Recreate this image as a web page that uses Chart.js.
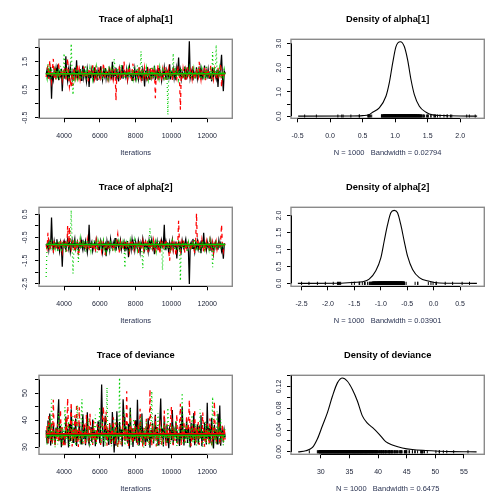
<!DOCTYPE html>
<html>
<head>
<meta charset="utf-8">
<script src="https://cdn.jsdelivr.net/npm/chart.js@4"></script>
<style>
  html, body { margin: 0; padding: 0; background: #fff; }
  #wrap { position: relative; width: 504px; height: 504px; }
  #wrap canvas { position: absolute; }
</style>
</head>
<body>
<div id="wrap">
  <canvas id="traceA1" width="252" height="168" style="left:0;top:0"></canvas>
  <canvas id="densA1" width="252" height="168" style="left:252px;top:0"></canvas>
  <canvas id="traceA2" width="252" height="168" style="left:0;top:168px"></canvas>
  <canvas id="densA2" width="252" height="168" style="left:252px;top:168px"></canvas>
  <canvas id="traceDev" width="252" height="168" style="left:0;top:336px"></canvas>
  <canvas id="densDev" width="252" height="168" style="left:252px;top:336px"></canvas>
</div>
<script>
// iterations kept for plotting (one value per 50 iterations)
var iterations = Array.from({ length: 201 }, (_, i) => 3000 + 50 * i);

// alpha[1], chains 1-3
var alpha1Chain1 = [1.05,1.22,0.90,1.14,0.97,1.31,0.18,1.08,0.86,1.19, 1.02,1.27,0.93,1.40,0.84,1.11,0.99,1.25,0.45,1.06,
  1.17,0.89,1.69,1.03,0.81,1.21,0.95,1.33,1.07,0.88, 1.15,1.00,1.29,0.92,1.55,0.86,1.12,0.98,1.24,0.83,
  1.09,1.36,0.94,1.18,1.01,0.79,1.26,1.05,0.60,1.14, 0.91,1.23,1.03,0.87,1.30,0.97,1.12,0.82,1.20,1.04,
  0.93,1.34,1.08,0.85,1.17,0.99,1.27,0.90,1.13,1.02, 0.88,1.22,1.06,0.95,1.50,0.84,1.15,1.00,1.28,0.92,
  1.10,0.80,1.24,1.03,0.96,1.37,0.89,1.16,1.07,0.94, 1.21,0.86,1.11,1.32,0.98,1.05,0.83,1.19,1.01,1.26,
  0.92,1.14,1.04,0.87,1.29,0.97,1.10,0.81,1.23,1.06, 0.62,1.18,0.95,1.31,1.02,0.88,1.25,1.09,0.93,1.16,
  1.00,1.35,0.85,1.12,0.99,1.27,0.90,1.21,1.05,0.82, 1.14,0.96,1.30,1.03,0.89,1.19,1.08,0.94,1.41,0.87,
  1.11,1.01,1.24,0.91,1.16,0.84,1.28,1.06,1.65,0.97, 1.20,0.88,1.13,1.03,0.95,1.33,0.86,1.17,1.00,1.25,
  2.23,0.92,1.09,1.22,0.83,1.15,1.04,0.97,1.30,0.90, 1.12,1.01,1.26,0.87,1.18,0.94,1.07,1.36,0.85,1.14,
  0.99,1.23,0.91,1.10,1.04,0.80,1.29,0.96,1.19,1.02, 0.88,1.21,0.60,1.13,1.05,1.32,1.75,0.93,0.45,1.16, 1.09];
var alpha1Chain2 = [0.95,1.18,1.38,0.88,1.55,1.02,0.79,1.25,1.60,0.92, 1.31,0.84,1.12,1.00,1.48,0.90,1.06,1.22,0.86,1.14,
  1.00,1.27,0.86,1.19,1.62,0.97,0.60,0.82,0.58,1.11, 0.64,1.29,1.04,0.89,1.16,1.40,0.98,1.21,0.87,1.08,
  1.13,0.95,1.33,1.03,0.91,1.18,1.07,0.80,1.26,1.00, 1.15,0.94,1.37,1.05,0.88,1.22,0.99,1.10,0.85,1.30,
  1.04,0.92,1.17,0.96,1.45,1.08,0.90,1.23,1.01,0.86, 1.19,1.06,0.93,1.34,1.12,0.84,1.02,1.27,0.12,1.15,
  0.97,1.09,1.38,0.84,1.21,1.03,0.92,1.51,1.07,0.95, 1.25,0.88,1.14,1.32,1.00,0.91,1.18,1.43,0.83,1.06,
  1.11,0.96,1.24,0.89,1.35,1.02,0.87,1.16,1.05,0.93, 1.28,0.99,1.13,0.82,1.20,1.04,0.94,1.31,0.88,1.17,
  1.01,1.26,0.20,1.10,0.95,1.39,0.86,1.15,1.03,0.91, 1.22,0.97,1.08,1.33,0.85,1.12,1.00,1.24,0.90,1.18,
  1.05,0.83,1.29,0.96,1.14,1.02,0.89,1.36,1.07,0.94, -0.21,1.11,0.87,1.25,1.01,0.92,1.19,0.85,1.30,1.04,
  0.96,1.21,1.08,0.88,1.34,0.99,1.13,0.90,1.27,1.03, 0.93,1.50,1.10,0.86,1.20,1.05,0.97,1.31,0.84,1.16,
  1.00,1.24,0.91,1.12,1.38,0.95,1.07,0.87,1.22,1.02, 1.15,0.89,1.29,0.98,1.10,1.43,0.59,1.21,0.92,1.06, 1.11];
var alpha1Chain3 = [1.08,0.91,1.43,1.00,1.19,0.85,1.27,0.96,1.12,1.04, 1.30,0.88,1.21,0.99,1.14,0.83,1.35,1.03,1.17,0.90,
  1.80,1.06,0.94,1.25,1.01,0.86,1.20,0.97,2.14,1.09, 0.32,1.16,0.92,1.33,1.03,0.89,1.22,0.98,1.11,0.87,
  1.10,1.24,0.94,1.07,1.38,0.87,1.16,1.01,0.93,1.26, 1.05,1.13,0.89,1.20,0.98,1.09,1.31,0.92,1.14,1.02,
  0.95,1.23,1.06,0.86,1.29,1.11,0.97,1.18,1.04,0.90, 1.35,1.07,0.94,1.21,1.00,1.16,1.60,1.22,1.09,0.96,
  1.28,1.03,0.91,1.14,1.40,0.99,1.06,0.88,1.17,1.01, 1.12,0.93,1.25,1.08,0.95,1.19,1.02,0.87,1.30,1.05,
  1.13,0.92,1.36,0.98,1.15,1.07,1.87,0.89,1.21,1.00, 1.11,0.94,1.27,1.04,0.86,1.18,1.09,0.96,1.33,1.02,
  0.90,1.24,1.06,0.97,1.15,1.01,0.88,1.29,1.08,0.95, 1.19,1.03,0.92,1.26,0.85,1.12,-0.39,1.17,1.00,1.23,
  0.94,1.10,1.80,0.99,1.31,0.91,1.14,1.05,0.87,1.20, 1.02,1.28,0.96,1.11,0.89,1.34,1.06,0.93,1.18,1.01,
  1.25,0.90,1.13,1.04,0.97,1.22,0.86,1.16,1.07,0.95, 1.30,1.00,1.12,0.88,1.24,1.05,0.94,1.19,1.02,1.37,
  0.91,1.15,1.06,0.98,1.27,0.84,1.85,1.09,1.20,0.96, 2.10,1.03,1.14,0.92,1.26,1.01,0.89,1.18,0.97,1.23, 1.06];

// alpha[2], chains 1-3
var alpha2Chain1 = [-0.78,-0.95,-0.62,-1.03,-0.71,-0.88,0.36,-0.80,-1.05,-0.66, -0.91,-0.74,-0.58,-0.97,-0.83,-1.10,-0.69,-0.87,-1.76,-0.75,
  -0.64,-0.92,-1.02,-0.79,-0.56,-0.96,-0.71,-1.12,-0.85,-0.63, -0.93,-0.76,-0.55,-1.00,-0.82,-0.68,-1.07,-0.79,-0.90,-0.60,
  -0.86,-1.04,-0.73,-0.95,-0.65,-0.88,-1.15,-0.77,0.05,-0.92, -0.81,-0.69,-1.08,-0.87,-0.73,-0.98,-0.60,-0.84,-1.01,-0.75,
  -0.94,-0.63,-0.82,-1.13,-0.70,-0.89,-0.77,-1.31,-0.67,-0.92, -0.75,-1.04,-0.57,-0.86,-0.98,-0.72,-0.90,-0.52,-1.07,-0.80,
  -0.67,-0.94,-0.84,-0.61,-1.01,-0.76,-0.88,-0.70,-1.10,-0.79, -0.96,-0.65,-1.35,-0.85,-0.74,-1.02,-0.59,-0.91,-0.78,-1.06,
  -0.68,-0.87,-0.99,-0.62,-0.83,-1.14,-0.73,-0.93,-0.55,-0.81, -1.03,-0.70,-0.89,-0.76,-1.09,-0.64,-0.95,-0.80,-0.58,-0.97,
  -0.84,-1.22,-0.74,-0.91,-0.66,-1.00,-0.82,-0.71,-0.94,-0.63, -0.88,-0.77,0.05,-1.05,-0.69,-0.92,-0.81,-1.17,-0.73,-0.99,
  -0.86,-0.60,-1.03,-0.76,-0.90,-0.67,-1.40,-0.83,-0.72,-0.96, -0.79,-1.06,-0.64,-0.88,-0.99,-0.74,-0.57,-0.93,-0.85,-1.11,
  -2.50,-0.80,-0.71,-0.97,-0.56,-0.89,-1.13,-0.75,-0.92,-0.66, -1.01,-0.84,-0.73,-1.18,-0.62,-0.95,-0.30,-0.87,-0.78,-1.04,
  -0.69,-0.91,-0.82,-1.08,-0.65,-0.98,-0.76,-1.20,-0.88,-0.71, -0.95,-0.81,-1.02,-0.62,-0.86,-0.74,-1.09,-0.93,-1.41,-0.79, -0.78];
var alpha2Chain2 = [-0.85,-0.99,-0.30,-0.72,-1.08,-0.66,-0.90,-0.79,-1.15,-0.61, -0.88,-0.74,-1.01,-0.93,-0.69,-1.02,-0.58,-0.84,-1.12,-0.77,
  -0.95,-0.63,-0.86,-1.10,-0.01,-0.92,-0.05,-0.81,-1.00,-0.75, -0.67,-0.89,-1.12,-0.73,-0.96,-0.60,-1.30,-1.05,-0.70,-0.91,
  -0.78,-0.64,-0.99,-0.85,-0.71,-1.06,-0.59,-0.88,-0.97,-0.74, -0.83,-1.03,-0.69,-0.90,-0.76,-1.14,-0.62,-0.85,-0.98,-0.71,
  -0.88,-0.55,-1.07,-0.80,-0.67,-0.93,-1.25,-0.74,-0.89,-0.63, -1.01,-0.79,-0.70,-0.95,-0.86,-1.09,-0.77,-0.68,-0.92,-0.59,
  -0.35,-0.84,-1.20,-0.73,-0.96,-0.81,-1.04,-0.66,-0.90,-0.78, -0.99,-0.64,-0.87,-1.11,-0.72,-0.93,-0.60,-0.85,-1.02,-0.76,
  -0.70,-0.95,-0.83,-1.16,-0.62,-0.89,-0.75,-0.98,-0.68,-1.04, -0.81,-0.57,-0.92,-0.77,-1.13,-0.66,-0.86,-1.00,-0.73,-0.94,
  -0.61,-0.88,-1.06,-0.79,-0.69,-0.97,-0.84,-1.21,-0.72,-0.90, -0.65,-1.03,-0.80,-0.93,-0.58,-0.87,-0.76,-1.10,-1.50,-0.83,
  -0.96,-0.68,-1.02,-0.74,-0.89,-1.30,-0.63,-0.85,0.22,-0.78, -1.09,-0.71,-0.92,-0.60,-0.84,-1.15,-0.77,-0.95,-0.67,-0.88,
  -0.99,-0.73,-1.07,-0.82,-0.64,-0.91,-1.18,-0.75,0.54,-0.86, -0.70,-1.01,-0.81,-0.94,-0.59,-0.87,-1.12,-0.76,-0.97,-0.66,
  -0.90,-0.78,-1.05,-0.62,-0.85,-0.99,-0.72,-1.14,-0.80,-0.93, -0.68,-1.02,-0.84,-0.75,-0.96,-0.61,0.05,-0.89,-1.10,-0.79, -0.76];
var alpha2Chain3 = [-2.20,-0.82,-0.69,-1.00,-0.76,-0.91,-0.58,-1.07,-0.84,-0.72, -0.95,-0.66,-0.88,-1.13,-0.79,-0.61,-0.93,-1.02,-0.70,-0.86,
  -0.97,-0.74,-1.16,-0.83,-0.68,-0.90,-1.04,-0.77,0.68,-0.81, -2.05,-0.94,-0.71,-1.09,-0.80,-0.64,-1.55,-0.89,-0.56,-1.00,
  -0.85,-0.73,-0.96,-0.67,-1.12,-0.80,-0.62,-0.99,-0.87,-0.75, -1.05,-0.70,-0.92,-0.81,-0.58,-0.98,-0.78,-1.14,-0.66,-0.88,
  -0.94,-0.72,-1.03,-0.84,-0.63,-0.96,-0.77,-1.08,-0.69,-0.91, -0.82,-1.10,-0.60,-0.87,-0.99,-0.74,-0.85,-1.02,-0.71,-0.93,
  -0.79,-0.65,-1.06,-0.90,-0.76,-0.97,-0.68,-0.86,-1.80,-0.83, -0.70,-0.95,-0.80,-1.11,-0.64,-0.89,-0.75,-1.01,-0.87,-0.62,
  -0.98,-0.78,-1.04,-0.73,-0.92,-0.66,-0.85,-1.15,-1.82,-0.79, -0.94,-0.69,-1.07,-0.81,-0.58,-0.96,-0.10,-0.88,-1.03,-0.74,
  -0.86,-0.97,-0.71,-1.09,-0.83,-0.63,-0.92,-0.77,-1.00,-0.68, -1.90,-0.89,-0.75,-1.05,-0.82,-0.67,-0.99,-0.73,-0.91,-1.12,
  -0.80,-0.64,-0.94,-0.85,-1.06,-0.72,-0.88,-0.97,-0.61,-0.84, -2.36,-0.79,-0.91,-0.68,-1.01,-0.86,-0.74,-0.95,-1.13,-0.70,
  -0.87,-0.76,-1.04,-0.82,-0.65,-0.93,-0.57,-1.08,-0.80,-0.96, -0.72,-0.89,-1.15,-0.75,-0.98,-0.63,-0.85,-1.02,-0.70,-0.92,
  -0.88,-0.73,-1.00,-0.65,-0.94,-0.81,-1.78,-0.77,-1.06,-0.84, -0.61,-0.99,-0.80,-0.90,-0.69,-1.03,-0.86,-0.74,-0.95,-0.82, -0.84];

// deviance, chains 1-3
var devChain1 = [36.2,31.5,39.8,33.1,42.4,30.6,35.7,32.0,38.3,34.4, 30.9,37.1,33.6,41.0,47.7,32.4,37.9,29.9,35.2,33.0,
  34.1,30.9,41.3,33.6,36.8,29.8,38.5,32.2,44.0,34.9, 31.7,37.2,33.4,40.6,30.4,35.9,32.8,39.1,34.3,31.2,
  36.6,42.1,33.0,38.2,30.7,35.1,42.9,32.5,31.0,34.6, 37.4,31.8,40.2,33.2,36.0,30.3,36.0,32.9,39.5,34.8,
  31.4,38.0,53.2,37.7,30.1,35.4,41.6,32.6,36.3,34.0, 30.8,38.9,33.5,31.1,43.0,35.6,28.0,37.1,30.5,43.3,
  34.4,31.9,39.3,33.9,36.5,30.2,47.7,41.0,32.3,37.6, 34.7,31.3,38.6,29.4,44.6,33.2,36.9,30.0,35.3,32.7,
  39.9,31.6,47.5,34.2,30.6,39.9,33.8,42.4,31.0,36.1, 33.6,30.4,37.8,32.1,40.7,34.9,29.7,36.4,33.0,38.8,
  31.3,35.5,42.0,32.8,37.4,30.8,34.1,39.6,48.0,33.4, 36.9,30.2,41.2,34.6,31.8,38.1,33.3,29.6,37.0,35.8,
  32.5,43.7,30.9,36.2,34.0,39.4,31.6,35.1,33.7,30.4, 38.6,32.2,44.9,34.8,30.6,36.7,33.1,40.3,31.5,37.3,
  34.3,29.8,39.0,32.9,36.1,42.6,30.7,35.4,33.8,38.4, 31.0,37.9,33.5,41.8,30.3,35.9,32.4,39.1,34.6,30.9,
  46.4,33.0,37.0,31.4,35.6,40.8,32.7,29.5,38.2,34.2, 36.6,31.2,42.3,33.9,45.4,30.5,35.0,37.4,31.7,36.1, 33.6];
var devChain2 = [33.4,37.8,30.9,41.5,35.6,32.1,39.0,31.0,47.5,34.7, 30.4,36.9,33.0,38.6,31.6,35.2,43.8,32.5,37.3,30.0,
  34.0,30.7,40.9,33.7,48.1,35.8,32.8,38.0,46.5,30.2, 36.4,33.1,41.8,31.4,46.0,34.5,30.0,44.7,32.3,36.1,
  33.8,31.2,39.0,35.5,30.6,42.0,34.2,37.9,31.8,42.3, 33.5,36.7,30.8,39.7,32.0,35.0,31.5,38.4,33.3,37.2,
  37.0,30.3,34.8,40.3,45.0,36.3,32.9,43.1,30.5,35.9, 33.9,38.8,31.3,36.6,32.4,41.0,34.3,30.9,39.2,33.6,
  29.8,31.1,35.4,37.6,30.1,34.6,41.2,32.7,36.0,31.9, 50.7,33.3,30.4,35.7,42.9,32.2,37.4,31.5,34.1,39.6,
  32.8,36.5,30.6,38.9,33.2,44.2,31.7,35.3,29.9,37.1, 34.4,30.8,40.5,33.0,36.8,31.3,51.4,34.9,30.5,38.2,
  32.6,35.7,41.4,30.2,37.9,33.6,31.1,39.8,34.7,30.9, 36.2,32.0,43.5,34.1,30.4,38.6,33.4,36.9,31.6,40.1,
  45.0,33.8,30.7,37.3,32.3,35.5,42.2,31.2,34.6,38.0, 46.0,30.6,36.4,33.1,39.5,31.8,35.2,41.7,32.9,37.6,
  47.5,34.0,30.3,38.1,32.5,36.0,43.9,31.4,35.8,33.2, 39.3,30.8,37.0,34.4,31.5,42.8,33.7,30.1,36.6,32.1,
  38.7,35.1,31.0,40.6,33.9,30.5,37.7,32.4,46.9,34.8, 31.3,36.8,33.5,39.4,30.7,35.9,32.6,38.5,31.8,37.2, 32.8];
var devChain3 = [35.1,30.8,38.3,33.5,41.0,32.6,47.7,31.3,36.4,33.8, 29.9,37.2,34.4,31.0,42.6,35.3,32.1,38.9,30.6,36.8,
  33.5,44.8,31.7,35.9,32.9,39.6,30.2,34.6,37.8,31.4, 41.4,33.0,36.2,30.5,38.7,45.5,32.4,35.5,31.1,39.3,
  47.7,30.9,36.1,33.6,37.0,31.8,35.8,40.7,32.3,30.1, 36.5,34.2,31.5,38.1,33.1,42.0,30.7,35.2,32.8,37.7,
  44.9,31.2,34.9,39.8,32.0,36.0,30.4,33.9,52.0,31.6, 35.6,32.5,38.5,30.3,34.3,37.3,31.9,40.2,33.4,36.7,
  30.0,35.0,55.7,32.2,31.0,36.9,33.7,43.4,30.6,34.7, 38.0,31.4,35.7,32.6,44.1,30.8,36.3,33.2,40.5,31.8,
  34.5,37.5,32.9,30.5,38.4,33.6,41.3,31.2,35.9,29.8, 37.1,33.3,39.7,31.9,34.8,30.6,36.4,32.7,50.7,34.0,
  31.5,38.9,33.2,36.6,30.2,42.5,32.4,35.3,31.0,37.8, 34.1,30.7,39.2,33.5,36.0,31.3,44.6,32.1,35.4,30.9,
  38.3,34.6,31.6,37.4,33.0,40.0,30.4,35.8,32.6,36.9, 31.7,34.2,50.1,30.8,37.6,33.9,31.1,39.0,32.5,35.6,
  30.3,36.2,33.4,41.9,31.4,35.1,32.0,38.6,30.6,34.4, 37.7,31.9,44.0,33.1,36.5,30.1,35.7,32.8,39.5,31.3,
  34.9,38.1,30.5,36.7,33.6,31.8,48.6,35.2,32.3,37.0, 30.9,43.2,33.7,36.1,31.5,40.4,32.2,35.5,30.7,34.5, 37.5];

// smoothed level of each chain (black, red, green)
var alpha1Smooth = [1.07, 1.06, 1.07];
var alpha2Smooth = [-0.80, -0.81, -0.80];
var devSmooth = [34.6, 34.9, 34.3];

// kernel density curves
var alpha1DensX = [-0.49, 0.30, 0.50, 0.60, 0.654, 0.756, 0.859, 0.910, 0.962, 1.013, 1.08, 1.141, 1.192, 1.244, 1.295, 1.372, 1.474, 1.577, 1.782, 2.0, 2.26];
var alpha1DensY = [0, 0.003, 0.02, 0.06, 0.16, 0.34, 0.82, 1.37, 2.19, 2.87, 3.07, 2.87, 2.32, 1.50, 0.89, 0.41, 0.16, 0.05, 0.02, 0.005, 0];
var alpha2DensX = [-2.57, -1.8, -1.5, -1.347, -1.22, -1.094, -0.999, -0.936, -0.873, -0.81, -0.746, -0.683, -0.62, -0.556, -0.493, -0.398, -0.271, -0.082, 0.108, 0.4, 0.82];
var alpha2DensY = [0, 0.005, 0.03, 0.05, 0.125, 0.37, 0.75, 1.24, 1.72, 2.08, 2.15, 2.08, 1.72, 1.24, 0.80, 0.41, 0.17, 0.06, 0.01, 0.003, 0];
var devDensX = [26.06, 27.38, 28.55, 29.42, 30.29, 31.16, 32.03, 32.9, 33.77, 34.65, 35.52, 36.39, 37.26, 38.14, 39.01, 40.17, 41.33, 42.49, 44.24, 45.98, 48.31, 50.63, 52.96, 57.2];
var devDensY = [0, 0.002, 0.008, 0.024, 0.048, 0.072, 0.102, 0.1266, 0.1356, 0.1296, 0.1145, 0.0933, 0.066, 0.0527, 0.0448, 0.0327, 0.0187, 0.0127, 0.0072, 0.0042, 0.0024, 0.0012, 0.0004, 0];

// tick values and labels
var iterTicks = [4000, 6000, 8000, 10000, 12000];
var iterLabels = ["4000", "6000", "8000", "10000", "12000"];
var alpha1Ticks = [-0.5, 0, 0.5, 1, 1.5, 2];
var alpha1Labels = ["-0.5", "", "0.5", "", "1.5", ""];
var alpha1DensXTicks = [-0.5, 0, 0.5, 1, 1.5, 2];
var alpha1DensXLabels = ["-0.5", "0.0", "0.5", "1.0", "1.5", "2.0"];
var alpha1DensYTicks = [0, 0.5, 1, 1.5, 2, 2.5, 3];
var alpha1DensYLabels = ["0.0", "", "1.0", "", "2.0", "", "3.0"];
var alpha2Ticks = [-2.5, -2, -1.5, -1, -0.5, 0, 0.5];
var alpha2Labels = ["-2.5", "", "-1.5", "", "-0.5", "", "0.5"];
var alpha2DensXTicks = [-2.5, -2, -1.5, -1, -0.5, 0, 0.5];
var alpha2DensXLabels = ["-2.5", "-2.0", "-1.5", "-1.0", "-0.5", "0.0", "0.5"];
var alpha2DensYTicks = [0, 0.5, 1, 1.5, 2];
var alpha2DensYLabels = ["0.0", "0.5", "1.0", "1.5", "2.0"];
var devTicks = [30, 35, 40, 45, 50, 55];
var devLabels = ["30", "", "40", "", "50", ""];
var devDensXTicks = [30, 35, 40, 45, 50, 55];
var devDensXLabels = ["30", "35", "40", "45", "50", "55"];
var devDensYTicks = [0, 0.02, 0.04, 0.06, 0.08, 0.10, 0.12, 0.14];
var devDensYLabels = ["0.00", "", "0.04", "", "0.08", "", "0.12", ""];

// ---- drawing ----
var FONT = "'Liberation Sans', Arial, Helvetica, sans-serif";
var BOX = { left: 39, top: 39.3, right: 232.3, bottom: 118.3 };
var CW = 252, CH = 168, TICK = 4;
var chainCols = ["#000000", "#ff0000", "#00cd00"];
var chainDash = [[], [4, 4], [1, 3]];
var labelCol = "#1a2035";

Chart.defaults.font.family = FONT;

// gray frame plus R style axis lines running from first to last tick
var rFrame = {
  id: "rFrame",
  afterDatasetsDraw(chart) {
    var ctx = chart.ctx, a = chart.chartArea, x = chart.scales.x, y = chart.scales.y;
    ctx.save();
    ctx.strokeStyle = "#8a8a8a";
    ctx.lineWidth = 1.4;
    ctx.strokeRect(a.left, a.top, a.right - a.left, a.bottom - a.top);
    var x0 = x.getPixelForValue(x.ticks[0].value), x1 = x.getPixelForValue(x.ticks[x.ticks.length - 1].value);
    var y0 = y.getPixelForValue(y.ticks[0].value), y1 = y.getPixelForValue(y.ticks[y.ticks.length - 1].value);
    ctx.strokeStyle = "#000";
    ctx.lineWidth = 1;
    ctx.beginPath();
    ctx.moveTo(x0, Math.round(a.bottom) + 0.5);
    ctx.lineTo(x1, Math.round(a.bottom) + 0.5);
    ctx.moveTo(Math.round(a.left) + 0.5, y0);
    ctx.lineTo(Math.round(a.left) + 0.5, y1);
    ctx.stroke();
    ctx.restore();
  }
};

function drawPanel(id, title, datasets, xs, ys, xlab, yLabelX) {
  var m = document.createElement("canvas").getContext("2d");
  m.font = "7px " + FONT;
  var widest = Math.max.apply(null, ys.labels.map(function (l) { return m.measureText(l).width; }));
  var yPad = BOX.left - TICK - yLabelX - widest / 2;
  var tSize = 9.3, tTop = 14.3;
  var grid = { drawOnChartArea: false, drawTicks: true, tickLength: TICK, color: "#000", lineWidth: 1 };
  return new Chart(document.getElementById(id), {
    type: "line",
    data: { datasets: datasets },
    options: {
      responsive: false,
      animation: false,
      events: [],
      layout: { padding: { left: 0, top: 0, right: CW - BOX.right, bottom: 0 } },
      plugins: {
        legend: { display: false },
        tooltip: { enabled: false },
        title: {
          display: true, fullSize: false, text: title, color: "#000",
          font: { family: FONT, size: tSize, weight: "bold", lineHeight: 1.2 },
          padding: { top: tTop, bottom: BOX.top - tTop - tSize * 1.2 }
        }
      },
      scales: {
        x: {
          type: "linear", min: xs.min, max: xs.max,
          afterBuildTicks: function (s) { s.ticks = xs.ticks.map(function (v) { return { value: v }; }); },
          afterFit: function (s) { s.height = CH - BOX.bottom; },
          border: { display: false },
          grid: grid,
          ticks: {
            autoSkip: false, minRotation: 0, maxRotation: 0, padding: 9.2, color: labelCol,
            font: { family: FONT, size: 7, lineHeight: 1.2 },
            callback: function (v, i) { return xs.labels[i]; }
          },
          title: {
            display: true, text: xlab, color: "#2a3352",
            font: { family: FONT, size: 7.5, lineHeight: 1.2 },
            padding: { top: 0, bottom: CH - 153.3 - 7.5 * 0.6 }
          }
        },
        y: {
          type: "linear", min: ys.min, max: ys.max,
          afterBuildTicks: function (s) { s.ticks = ys.ticks.map(function (v) { return { value: v }; }); },
          afterFit: function (s) { s.width = BOX.left; },
          border: { display: false },
          grid: grid,
          ticks: {
            autoSkip: false, minRotation: 90, maxRotation: 90, crossAlign: "center", padding: yPad, color: labelCol,
            font: { family: FONT, size: 7, lineHeight: 1.2 },
            callback: function (v, i) { return ys.labels[i]; }
          }
        }
      }
    },
    plugins: [rFrame]
  });
}

function traceSets(chains, smooth) {
  var sets = [];
  chains.forEach(function (vals, k) {
    sets.push({
      data: vals.map(function (v, i) { return { x: iterations[i], y: v }; }),
      borderColor: chainCols[k], borderDash: chainDash[k], borderWidth: 1.25,
      pointRadius: 0, tension: 0, order: 6 - k
    });
    sets.push({
      data: [{ x: iterations[0], y: smooth[k] }, { x: iterations[iterations.length - 1], y: smooth[k] }],
      borderColor: chainCols[k], borderWidth: 1.6, pointRadius: 0, order: 3 - k
    });
  });
  return sets;
}

function densSets(xs, ys, rug) {
  return [
    {
      data: xs.map(function (x, i) { return { x: x, y: ys[i] }; }),
      borderColor: "#000", borderWidth: 1.1, pointRadius: 0, cubicInterpolationMode: "monotone", order: 1
    },
    {
      data: rug.map(function (v) { return { x: v, y: 0 }; }),
      showLine: false, pointStyle: "line", pointRotation: 90, pointRadius: 1.6,
      pointBorderColor: "#000", pointBorderWidth: 1, borderColor: "#000", order: 2
    }
  ];
}

var iterAxis = { min: 2600, max: 13400, ticks: iterTicks, labels: iterLabels };

drawPanel("traceA1", "Trace of alpha[1]",
  traceSets([alpha1Chain1, alpha1Chain2, alpha1Chain3], alpha1Smooth),
  iterAxis, { min: -0.52, max: 2.3, ticks: alpha1Ticks, labels: alpha1Labels }, "Iterations", 25.5);

drawPanel("densA1", "Density of alpha[1]",
  densSets(alpha1DensX, alpha1DensY, alpha1Chain1.concat(alpha1Chain2, alpha1Chain3)),
  { min: -0.6, max: 2.37, ticks: alpha1DensXTicks, labels: alpha1DensXLabels },
  { min: -0.09, max: 3.17, ticks: alpha1DensYTicks, labels: alpha1DensYLabels },
  "N = 1000   Bandwidth = 0.02794", 27.5);

drawPanel("traceA2", "Trace of alpha[2]",
  traceSets([alpha2Chain1, alpha2Chain2, alpha2Chain3], alpha2Smooth),
  iterAxis, { min: -2.6, max: 0.8, ticks: alpha2Ticks, labels: alpha2Labels }, "Iterations", 25.5);

drawPanel("densA2", "Density of alpha[2]",
  densSets(alpha2DensX, alpha2DensY, alpha2Chain1.concat(alpha2Chain2, alpha2Chain3)),
  { min: -2.70, max: 0.96, ticks: alpha2DensXTicks, labels: alpha2DensXLabels },
  { min: -0.086, max: 2.24, ticks: alpha2DensYTicks, labels: alpha2DensYLabels },
  "N = 1000   Bandwidth = 0.03901", 27.5);

drawPanel("traceDev", "Trace of deviance",
  traceSets([devChain1, devChain2, devChain3], devSmooth),
  iterAxis, { min: 27.3, max: 56.6, ticks: devTicks, labels: devLabels }, "Iterations", 25.5);

drawPanel("densDev", "Density of deviance",
  densSets(devDensX, devDensY, devChain1.concat(devChain2, devChain3)),
  { min: 24.8, max: 58.55, ticks: devDensXTicks, labels: devDensXLabels },
  { min: -0.0045, max: 0.1405, ticks: devDensYTicks, labels: devDensYLabels },
  "N = 1000   Bandwidth = 0.6475", 27.5);
</script>
</body>
</html>
